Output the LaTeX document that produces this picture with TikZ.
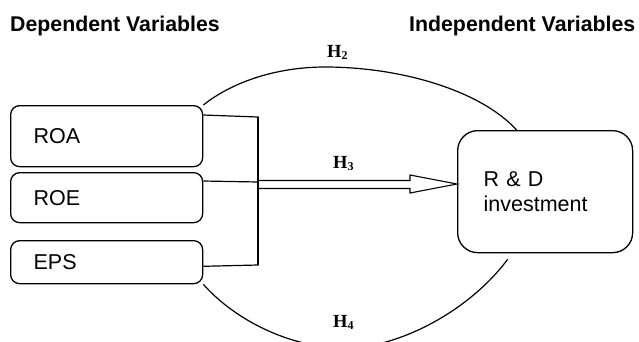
\documentclass[tikz,border=0pt]{standalone}
\usepackage{fontspec}
\setmainfont{Liberation Sans}
\newfontfamily\hserif{Liberation Serif}
\begin{document}
\begin{tikzpicture}[x=1pt,y=-1pt,
  varbox/.style={draw, line width=1.3pt, rounded corners=9pt, inner xsep=23pt, inner ysep=0pt,
    text width=146pt, minimum height=#1, align=left, anchor=north west,
    font=\fontsize{21.5}{24.5}\selectfont},
  title/.style={anchor=base west, inner sep=0pt, font=\fontsize{21.3}{24}\selectfont\bfseries},
  hlab/.style={anchor=base west, inner sep=0pt, font=\fontsize{18.5}{20}\selectfont\hserif\bfseries},
  conn/.style={line width=1.2pt}]
\useasboundingbox (0,0) rectangle (639,341);
\fill[white] (0,0) rectangle (639,341);
\clip (0,0) rectangle (639,341);

\node[title] (dep) at (10,31.5) {Dependent Variables};
\node[title] (ind) at (409,31.5) {Independent Variables};

\node[varbox=61pt] (roa) at (10,105) {ROA};
\node[varbox=50pt] (roe) at (10,172) {ROE};
\node[varbox=43pt] (eps) at (10,240) {EPS};

\node[draw, line width=1.3pt, rounded corners=20pt, anchor=north west, inner xsep=26pt, inner ysep=0pt,
  text width=123pt, minimum height=122pt, align=left,
  font=\fontsize{21.5}{24.5}\selectfont] (rd) at (457,130) {R \& D\\investment};

% bracket
\coordinate (bt) at (258,117);
\coordinate (bm) at (258,182);
\coordinate (bb) at (258,265);
\draw[conn] ([yshift=-10pt]roa.north east) -- (bt) -- (bb) -- ([yshift=18pt]eps.south east);
\draw[conn] ([yshift=-9pt]roe.north east) -- (bm);

% double arrow
\draw[line width=1.1pt, fill=white, line join=miter]
  (bm |- 0,180.5) -- (410,180.5) -- (410,175) -- (rd.west |- 0,184) -- (410,193) -- (410,188.5) -- (bm |- 0,188.5);
\draw[line width=1.1pt] (bt) -- (bb);

% arcs
\draw[conn] (roa.north east) .. controls (235,80) and (280,67) .. (325,67)
  .. controls (400,67) and (480,90) .. ([xshift=-28.5pt]rd.north);
\draw[conn] (eps.south east) .. controls (235,320) and (290,348) .. (345,348)
  .. controls (400,348) and (470,310) .. ([xshift=-37.5pt,yshift=-6pt]rd.south);

% labels
\node[hlab] (h2) at (327,57) {H\raisebox{-0.15em}{\fontsize{12}{12}\selectfont 2}};
\node[hlab] (h3) at (333,168) {H\raisebox{-0.15em}{\fontsize{12}{12}\selectfont 3}};
\node[hlab] (h4) at (333,327) {H\raisebox{-0.15em}{\fontsize{12}{12}\selectfont 4}};
\end{tikzpicture}
\end{document}
